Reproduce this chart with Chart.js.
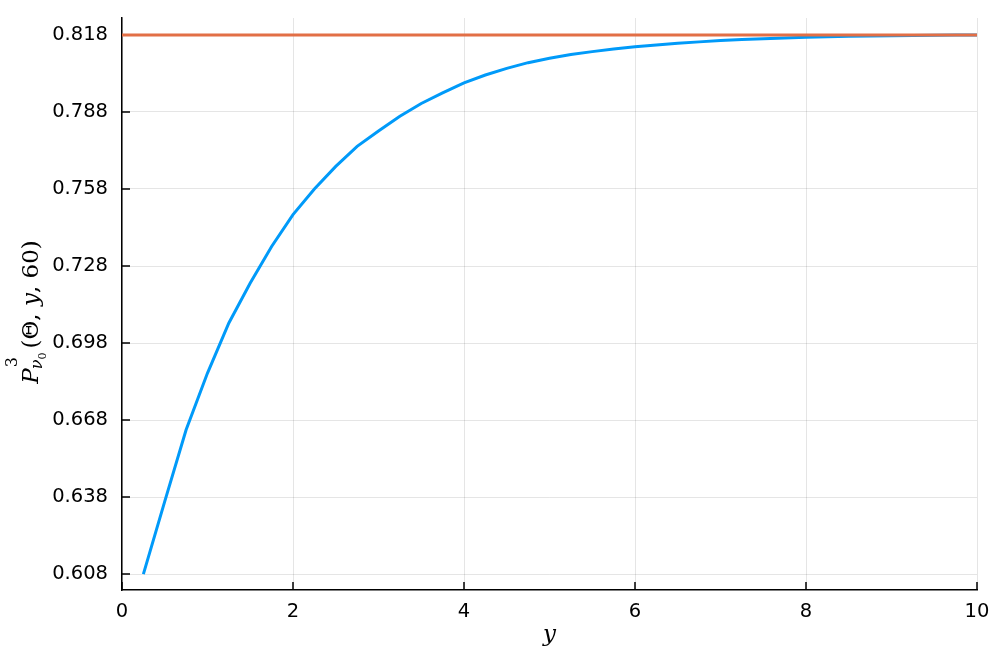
<!DOCTYPE html>
<html>
<head>
<meta charset="utf-8">
<script src="https://cdn.jsdelivr.net/npm/chart.js@4.4.0/dist/chart.umd.min.js"></script>
<style>
  body { margin: 0; background: #fff; }
  #wrap { width: 997px; height: 664px; }
</style>
</head>
<body>
<div id="wrap"><canvas id="plot" width="997" height="664"></canvas></div>
<script>
// values
const yValues = [0.25, 0.5, 0.75, 1, 1.25, 1.5, 1.75, 2, 2.25, 2.5, 2.75, 3, 3.25, 3.5, 3.75, 4,
  4.25, 4.5, 4.75, 5, 5.25, 5.5, 5.75, 6, 6.25, 6.5, 6.75, 7, 7.25, 7.5, 7.75, 8,
  8.25, 8.5, 8.75, 9, 9.25, 9.5, 9.75, 10]
const probValues = [0.6080, 0.6363, 0.6642, 0.6863, 0.7058, 0.7214, 0.7356, 0.7480, 0.7580, 0.7668,
  0.7746, 0.7806, 0.7863, 0.7913, 0.7954, 0.7993, 0.8024, 0.8050, 0.8072, 0.8089,
  0.8104, 0.8115, 0.8125, 0.8134, 0.8141, 0.8148, 0.8153, 0.8158, 0.8162, 0.8165,
  0.8168, 0.8171, 0.8173, 0.8175, 0.8176, 0.8177, 0.8178, 0.8179, 0.8180, 0.8180]
const limitX = [0, 10]
const limitY = [0.818, 0.818]
const xTicks = [0, 2, 4, 6, 8, 10]
const yTicks = [0.608, 0.638, 0.668, 0.698, 0.728, 0.758, 0.788, 0.818]

const blue = '#009af9'
const orange = '#e26f46'
const tickFont = {family: 'DejaVu Sans', size: 19.5}

const toPoints = (xs, ys) => xs.map((x, i) => ({x: x, y: ys[i]}))

// ticks of GR/Plots point inward from the spines
const innerTicks = {
    id: 'innerTicks',
    beforeDatasetsDraw(chart){
        const ctx = chart.ctx
        const {left, bottom} = chart.chartArea
        const xs = chart.scales.x
        const ys = chart.scales.y
        ctx.save()
        ctx.strokeStyle = '#000'
        ctx.lineWidth = 1.5
        ctx.beginPath()
        for(const v of xTicks){
            const px = xs.getPixelForValue(v)
            ctx.moveTo(px, bottom)
            ctx.lineTo(px, bottom - 8)
        }
        for(const v of yTicks){
            const py = ys.getPixelForValue(v)
            ctx.moveTo(left, py)
            ctx.lineTo(left + 8, py)
        }
        ctx.stroke()
        ctx.restore()
    }
}

// axis titles with math-like super/subscripts
const mathTitles = {
    id: 'mathTitles',
    afterDraw(chart){
        const ctx = chart.ctx
        const {left, right} = chart.chartArea
        const serif = 'DejaVu Serif'
        const parts = [
            {t: 'P', font: `italic 23px "${serif}"`, dy: 0},
            {t: '3', font: `16px "${serif}"`, dy: -21},
            {t: 'ν', font: `italic 16px "${serif}"`, dy: 4},
            {t: '0', font: `11px "${serif}"`, dy: 8},
            {t: '(Θ, ', font: `23px "${serif}"`, dy: 0},
            {t: 'y', font: `italic 23px "${serif}"`, dy: 0},
            {t: ', 60)', font: `23px "${serif}"`, dy: 0},
        ]
        ctx.save()
        const widths = parts.map(p => { ctx.font = p.font; return ctx.measureText(p.t).width })
        const blockW = Math.max(widths[1], widths[2] + widths[3]) + 2
        const total = widths[0] + 1 + blockW + widths[4] + widths[5] + widths[6]
        ctx.translate(38, 312 + total / 2)
        ctx.rotate(-Math.PI / 2)
        ctx.fillStyle = '#000'
        ctx.textBaseline = 'alphabetic'
        ctx.textAlign = 'left'
        let x = 0
        ctx.font = parts[0].font; ctx.fillText(parts[0].t, x, 0)
        x += widths[0] + 1
        ctx.font = parts[1].font; ctx.fillText(parts[1].t, x, parts[1].dy)
        ctx.font = parts[2].font; ctx.fillText(parts[2].t, x - 2, parts[2].dy)
        ctx.font = parts[3].font; ctx.fillText(parts[3].t, x - 2 + widths[2], parts[3].dy)
        x += blockW
        for(let i = 4; i < parts.length; i++){
            ctx.font = parts[i].font
            ctx.fillText(parts[i].t, x, 0)
            x += widths[i]
        }
        ctx.restore()

        ctx.save()
        ctx.fillStyle = '#000'
        ctx.font = `italic 23px "${serif}"`
        ctx.textAlign = 'center'
        ctx.textBaseline = 'alphabetic'
        ctx.fillText('y', (left + right) / 2, 641)
        ctx.restore()
    }
}

const plot = new Chart(document.getElementById('plot').getContext('2d'), {
    type: 'line',
    data: {
        datasets: [
            {
                label: 'y1',
                data: toPoints(yValues, probValues),
                borderColor: blue,
                backgroundColor: blue,
                borderWidth: 3,
                pointRadius: 0,
                order: 2,
            },
            {
                label: 'y2',
                data: toPoints(limitX, limitY),
                borderColor: orange,
                backgroundColor: orange,
                borderWidth: 3,
                pointRadius: 0,
                order: 1,
            },
        ]
    },
    options: {
        responsive: false,
        animation: false,
        layout: {padding: {top: 18, right: 20, left: 0, bottom: 0}},
        plugins: {
            legend: {display: false},
            tooltip: {enabled: false},
        },
        scales: {
            x: {
                type: 'linear',
                min: 0,
                max: 10,
                afterFit(scale){
                    scale.height = 74
                    scale.paddingLeft = 0
                    scale.paddingRight = 0
                },
                afterBuildTicks(scale){ scale.ticks = xTicks.map(v => ({value: v})) },
                ticks: {
                    color: '#000',
                    font: tickFont,
                    padding: 10,
                    maxRotation: 0,
                    callback: v => String(v),
                },
                grid: {color: 'rgba(0,0,0,0.1)', lineWidth: 1, drawTicks: false},
                border: {color: '#000', width: 1.5},
            },
            y: {
                type: 'linear',
                min: 0.6018,
                max: 0.8246,
                afterFit(scale){
                    scale.width = 122
                    scale.paddingTop = 0
                    scale.paddingBottom = 0
                },
                afterBuildTicks(scale){ scale.ticks = yTicks.map(v => ({value: v})) },
                ticks: {
                    color: '#000',
                    font: tickFont,
                    padding: 14,
                    callback: v => v.toFixed(3),
                },
                grid: {color: 'rgba(0,0,0,0.1)', lineWidth: 1, drawTicks: false},
                border: {color: '#000', width: 1.5},
            },
        },
    },
    plugins: [innerTicks, mathTitles],
})
</script>
</body>
</html>
